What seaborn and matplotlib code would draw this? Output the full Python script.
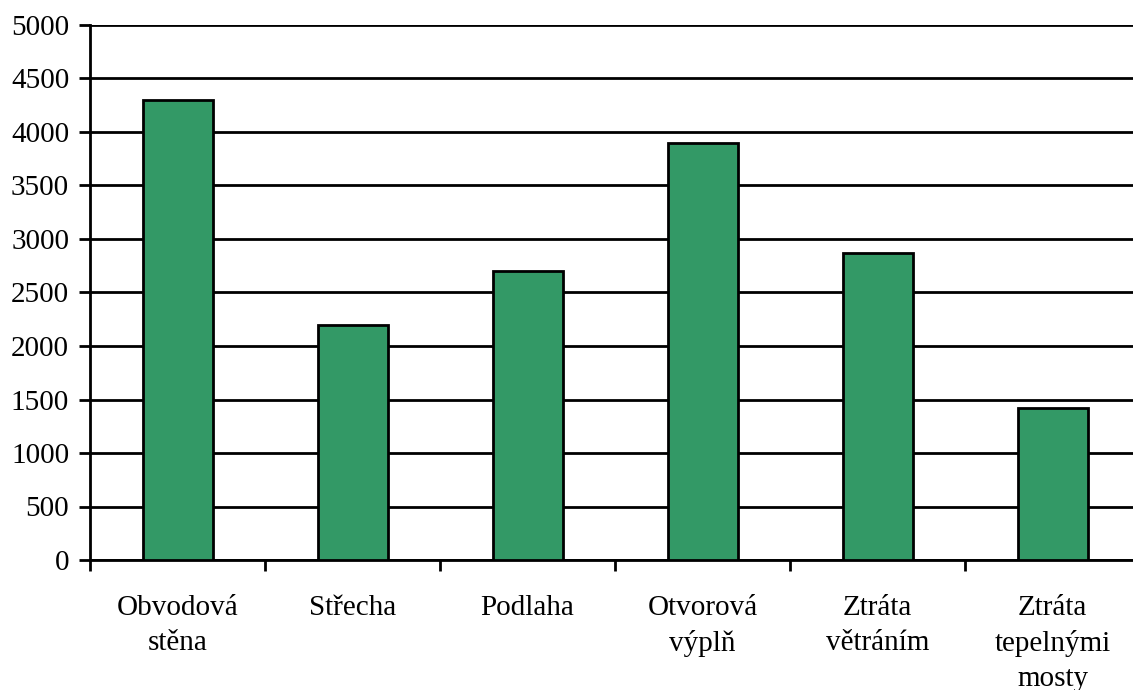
import matplotlib
matplotlib.use("Agg")
import matplotlib.pyplot as plt
from matplotlib.ticker import FixedLocator, MultipleLocator
import seaborn as sns
import pandas as pd

categories = ["Obvodová\nstěna", "Střecha", "Podlaha", "Otvorová\nvýplň",
              "Ztráta\nvětráním", "Ztráta\ntepelnými\nmosty"]
values = [4300, 2200, 2700, 3900, 2870, 1420]

df = pd.DataFrame({"kategorie": categories, "hodnota": values})

sns.set_theme(style="white")
plt.rcParams["font.family"] = ["Liberation Serif", "DejaVu Serif"]

fig = plt.figure(figsize=(11.33, 6.90), dpi=100)
ax = fig.add_axes([90 / 1133, 130 / 690, 1050 / 1133, 535 / 690])

sns.barplot(data=df, x="kategorie", y="hodnota", ax=ax, width=0.4,
            color="#339966", saturation=1, edgecolor="black", linewidth=2,
            zorder=3)

ax.set_xlim(-0.5, len(categories) - 0.5)
ax.set_ylim(0, 5000)
ax.yaxis.set_major_locator(MultipleLocator(500))
ax.yaxis.grid(True, color="black", linewidth=2)
ax.set_axisbelow(True)

for side in ["top", "right"]:
    ax.spines[side].set_visible(False)
for side in ["left", "bottom"]:
    ax.spines[side].set_color("black")
    ax.spines[side].set_linewidth(2)

ax.set_xlabel("")
ax.set_ylabel("")
ax.tick_params(axis="y", which="major", direction="out", length=8, width=2,
               color="black", labelsize=21, pad=7, left=True)
ax.tick_params(axis="x", which="major", length=0, labelsize=21, pad=25)
ax.xaxis.set_minor_locator(FixedLocator([i - 0.5 for i in range(len(categories) + 1)]))
ax.tick_params(axis="x", which="minor", direction="out", length=8, width=2,
               color="black", bottom=True)
for lbl in ax.get_xticklabels():
    lbl.set_linespacing(1.45)
    lbl.set_color("black")
for lbl in ax.get_yticklabels():
    lbl.set_color("black")

fig.savefig("out.png", dpi=100)
